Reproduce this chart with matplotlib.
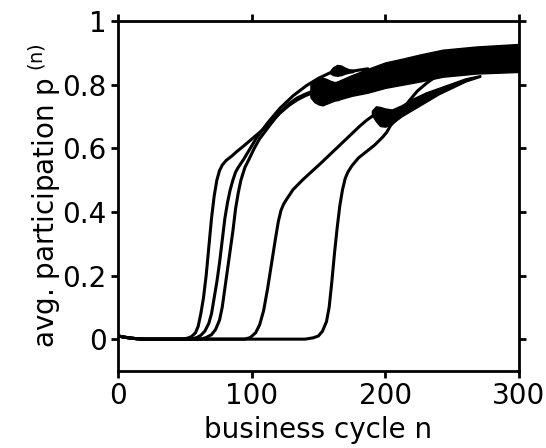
import matplotlib
matplotlib.use("Agg")
import matplotlib.pyplot as plt

plt.rcParams["font.family"] = ["DejaVu Sans"]
plt.rcParams["mathtext.default"] = "regular"

# curve A: earliest take-off, ends in the blob near n=150
n_a = [0, 5, 10, 15, 20, 48, 52, 55, 58, 60, 62, 64, 66, 68, 70, 72, 74, 76, 78, 81, 85, 89, 94, 99, 106,
       114, 121, 128, 134, 140, 146, 150]
p_a = [0.010, 0.006, 0.003, 0.001, 0.0, 0.0, 0.003, 0.008, 0.02, 0.04, 0.08, 0.13, 0.20, 0.29, 0.38, 0.45,
       0.50, 0.53, 0.547, 0.562, 0.575, 0.59, 0.607, 0.625, 0.65, 0.68, 0.71, 0.735, 0.752, 0.765, 0.775, 0.78]

# curve B: goes up to the bump at p~0.85
n_b = [0, 5, 10, 15, 20, 55, 59, 62, 65, 68, 70, 72, 74, 76, 78, 80, 82, 84, 86, 88, 90, 94, 99, 104, 112,
       121, 131, 141, 150, 159, 164, 170, 176, 187]
p_b = [0.010, 0.006, 0.003, 0.001, 0.0, 0.0, 0.005, 0.012, 0.025, 0.05, 0.08, 0.13, 0.18, 0.24, 0.31, 0.38,
       0.43, 0.47, 0.50, 0.525, 0.54, 0.565, 0.60, 0.635, 0.68, 0.725, 0.765, 0.797, 0.82, 0.838, 0.843,
       0.843, 0.843, 0.85]

# curve C
n_c = [0, 5, 10, 15, 20, 62, 66, 70, 73, 76, 78, 80, 82, 84, 86, 88, 90, 92, 95, 98, 102, 106, 115, 121,
       128, 134, 140, 146, 150]
p_c = [0.010, 0.006, 0.003, 0.001, 0.0, 0.0, 0.005, 0.014, 0.03, 0.06, 0.10, 0.16, 0.22, 0.28, 0.34, 0.41,
       0.46, 0.50, 0.54, 0.565, 0.60, 0.63, 0.68, 0.712, 0.74, 0.758, 0.77, 0.78, 0.782]

# curve D
n_d = [0, 5, 10, 15, 20, 95, 99, 103, 106, 109, 112, 115, 118, 120, 122, 124, 127, 131, 138, 145, 151, 156,
       161, 166, 171, 176, 181, 186, 190, 194]
p_d = [0.010, 0.006, 0.003, 0.001, 0.0, 0.0, 0.005, 0.02, 0.045, 0.09, 0.16, 0.24, 0.32, 0.37, 0.405, 0.425,
       0.445, 0.47, 0.50, 0.527, 0.55, 0.57, 0.59, 0.61, 0.63, 0.65, 0.67, 0.688, 0.70, 0.71]

# curve E: latest take-off
n_e = [0, 5, 10, 15, 20, 140, 146, 150, 153, 156, 158, 160, 162, 164, 166, 168, 170, 172, 175, 180, 186,
       192, 198, 201, 204, 208, 213, 218, 224, 231, 236]
p_e = [0.010, 0.006, 0.003, 0.001, 0.0, 0.0, 0.004, 0.01, 0.025, 0.055, 0.10, 0.18, 0.27, 0.35, 0.42,
       0.47, 0.505, 0.525, 0.545, 0.57, 0.59, 0.61, 0.635, 0.65, 0.672, 0.69, 0.722, 0.75, 0.78, 0.805, 0.82]

# oscillating bands (lower / upper envelope)
n_blob = [144, 147, 150, 153, 156, 159, 162, 165]
lo_blob = [0.76, 0.745, 0.738, 0.735, 0.74, 0.745, 0.75, 0.752]
hi_blob = [0.80, 0.812, 0.818, 0.822, 0.818, 0.812, 0.808, 0.81]

n_bump = [159, 161, 164, 167, 170, 173, 176]
lo_bump = [0.835, 0.83, 0.828, 0.83, 0.835, 0.838, 0.84]
hi_bump = [0.845, 0.855, 0.862, 0.86, 0.853, 0.848, 0.846]

n_main = [164, 175, 187, 200, 213, 226, 243, 268, 300]
lo_main = [0.752, 0.765, 0.775, 0.79, 0.80, 0.81, 0.825, 0.835, 0.84]
hi_main = [0.81, 0.83, 0.85, 0.87, 0.882, 0.895, 0.91, 0.92, 0.928]

n_dband = [190, 193, 196, 200, 205, 212, 220, 230, 240, 250, 260, 271]
lo_dband = [0.705, 0.685, 0.67, 0.668, 0.678, 0.70, 0.72, 0.745, 0.77, 0.79, 0.81, 0.825]
hi_dband = [0.718, 0.732, 0.73, 0.725, 0.722, 0.735, 0.755, 0.775, 0.79, 0.805, 0.82, 0.83]

fig = plt.figure(figsize=(5.46, 4.48), dpi=100)
ax = fig.add_axes([0.216, 0.172, 0.7345, 0.781])

for n, p in [(n_a, p_a), (n_b, p_b), (n_c, p_c), (n_d, p_d), (n_e, p_e)]:
    ax.plot(n, p, color="black", lw=2.2, solid_joinstyle="round", solid_capstyle="round")

for n, lo, hi in [(n_blob, lo_blob, hi_blob), (n_bump, lo_bump, hi_bump),
                  (n_main, lo_main, hi_main), (n_dband, lo_dband, hi_dband)]:
    ax.fill_between(n, lo, hi, color="black", lw=1.0, edgecolor="black")

ax.set_xlim(0, 300)
ax.set_ylim(-0.1, 1.0)
ax.set_xticks([0, 100, 200, 300])
ax.set_yticks([0, 0.2, 0.4, 0.6, 0.8, 1.0])
ax.set_yticklabels(["0", "0.2", "0.4", "0.6", "0.8", "1"])
ax.tick_params(direction="out", length=5, width=2, labelsize=20, pad=3,
               top=True, right=True)
for s in ax.spines.values():
    s.set_linewidth(2)

ax.set_xlabel("business cycle n", fontsize=20, labelpad=4)
ax.set_ylabel(r"avg. participation p$^{\ (n)}$", fontsize=20, labelpad=0)

fig.savefig("out.png", dpi=100)
